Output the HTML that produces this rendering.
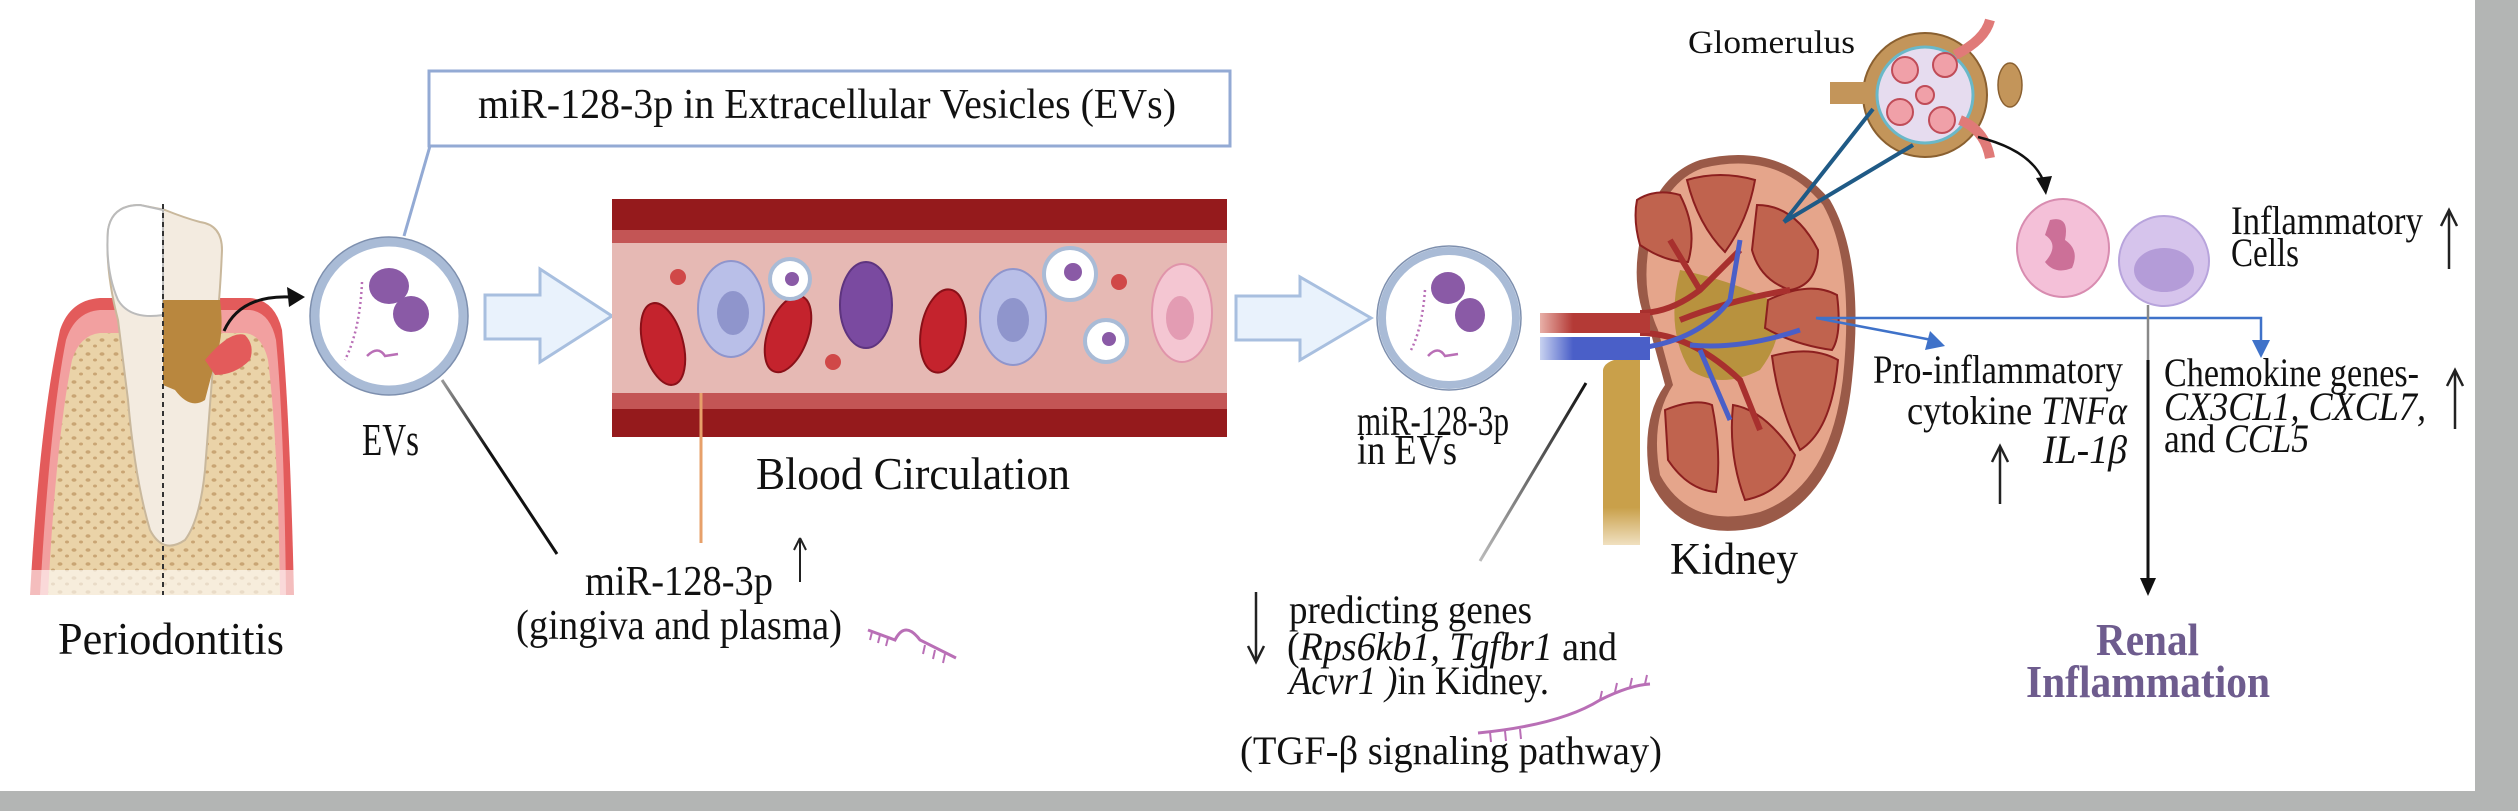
<!DOCTYPE html>
<html><head><meta charset="utf-8"><style>
html,body{margin:0;padding:0;background:#fff;}
svg{display:block;}
text{font-family:"Liberation Serif",serif;fill:#111;}
</style></head><body>
<svg width="2518" height="811" viewBox="0 0 2518 811" xmlns="http://www.w3.org/2000/svg">
<defs>
<linearGradient id="lg1" x1="0" y1="0" x2="1" y2="1"><stop offset="0" stop-color="#999"/><stop offset="0.4" stop-color="#111"/></linearGradient>
<linearGradient id="lg2" x1="1" y1="0" x2="0" y2="1"><stop offset="0" stop-color="#111"/><stop offset="1" stop-color="#bbb"/></linearGradient>
<pattern id="dots" width="14" height="14" patternUnits="userSpaceOnUse"><rect width="14" height="14" fill="#ead3a8"/><ellipse cx="4" cy="4" rx="2.5" ry="1.8" fill="#c9a574"/><ellipse cx="11" cy="10" rx="2" ry="1.5" fill="#c9a574"/></pattern>
<linearGradient id="art" x1="0" x2="1"><stop offset="0" stop-color="#e8b0a8"/><stop offset="0.3" stop-color="#b43a36"/></linearGradient>
<linearGradient id="vein" x1="0" x2="1"><stop offset="0" stop-color="#c8d2f0"/><stop offset="0.3" stop-color="#4a5fc8"/></linearGradient>
<linearGradient id="ur" x1="0" y1="0" x2="0" y2="1"><stop offset="0.8" stop-color="#c9a04a"/><stop offset="1" stop-color="#f0e0c0"/></linearGradient>
</defs>
<rect width="2518" height="811" fill="#fff"/>
<rect x="2475" y="0" width="43" height="811" fill="#b3b5b4"/>
<rect x="0" y="791" width="2518" height="20" fill="#b3b5b4"/>

<!-- title box -->
<rect x="429" y="71" width="801" height="75" fill="#fff" stroke="#93aad4" stroke-width="3"/>
<text x="478" y="118" font-size="42" textLength="698" lengthAdjust="spacingAndGlyphs">miR-128-3p in Extracellular Vesicles (EVs)</text>
<line x1="430" y1="146" x2="404" y2="236" stroke="#93aad4" stroke-width="3"/>

<!-- tooth -->
<path d="M30 595 Q40 420 60 330 Q70 300 100 298 L250 298 Q275 300 282 330 Q290 420 294 595 Z" fill="#e35b5b"/>
<path d="M40 595 Q50 420 66 340 Q75 312 100 310 L250 310 Q270 312 276 340 Q284 420 286 595 Z" fill="#f2a0a0"/>
<path d="M48 595 Q56 440 72 360 Q80 335 100 333 L245 333 Q262 335 268 360 Q278 440 280 595 Z" fill="url(#dots)"/>
<rect x="25" y="570" width="275" height="30" fill="#fff" opacity="0.6"/>
<path d="M108 230 Q112 205 140 205 L165 210 Q185 218 200 222 Q222 225 222 250 Q220 300 215 340 L205 470 Q200 520 185 540 Q163 555 150 530 Q135 480 128 400 L118 320 Q105 270 108 230 Z" fill="#f3ebe0" stroke="#c9b89c" stroke-width="2"/>
<path d="M108 230 Q112 205 140 205 L163 210 L163 315 Q130 320 118 300 Q105 270 108 230 Z" fill="#ffffff" stroke="#bbb" stroke-width="2"/>
<path d="M163 300 L220 300 Q224 330 218 350 L205 400 Q190 410 175 390 L163 385 Z" fill="#b9873e"/>
<path d="M205 360 Q230 330 245 335 Q255 345 250 360 Q235 375 215 375 Z" fill="#e35b5b"/>
<line x1="163" y1="204" x2="163" y2="595" stroke="#333" stroke-width="2" stroke-dasharray="5,4"/>
<path d="M224 331 Q240 295 290 297" fill="none" stroke="#111" stroke-width="3"/>
<path d="M305 297 L287 287 L289 307 Z" fill="#111"/>
<text x="58" y="654" font-size="45" textLength="226" lengthAdjust="spacingAndGlyphs">Periodontitis</text>

<!-- EV circle 1 -->
<circle cx="389" cy="316" r="74" fill="#fff" stroke="#a9bbd6" stroke-width="9"/>
<circle cx="389" cy="316" r="79" fill="none" stroke="#7d8fae" stroke-width="1.5"/>
<path d="M362 282 Q360 330 345 360" fill="none" stroke="#b96fb6" stroke-width="2.5" stroke-dasharray="2,3"/>
<ellipse cx="389" cy="286" rx="20" ry="18" fill="#8a5aa6"/>
<ellipse cx="411" cy="314" rx="18" ry="18" fill="#8a5aa6"/>
<path d="M367 356 Q378 345 385 356 L398 354" fill="none" stroke="#b96fb6" stroke-width="2.5"/>
<text x="362" y="455" font-size="45" textLength="57" lengthAdjust="spacingAndGlyphs">EVs</text>

<path d="M485 295 L540 295 L540 269 L612 316 L540 362 L540 339 L485 339 Z" fill="#e9f2fc" stroke="#a8bfdf" stroke-width="3"/>

<!-- vessel -->
<rect x="612" y="199" width="615" height="238" fill="#951a1c"/>
<rect x="612" y="230" width="615" height="13" fill="#c35555"/>
<rect x="612" y="243" width="615" height="150" fill="#e6b9b4"/>
<rect x="612" y="393" width="615" height="16" fill="#c35555"/>
<ellipse cx="663" cy="344" rx="20" ry="42" transform="rotate(-15 663 344)" fill="#c4232d" stroke="#8a1018" stroke-width="2"/>
<ellipse cx="731" cy="309" rx="33" ry="48" fill="#b9bfe8" stroke="#8f95cc" stroke-width="2"/>
<ellipse cx="733" cy="313" rx="16" ry="22" fill="#8f95cc"/>
<ellipse cx="788" cy="334" rx="20" ry="40" transform="rotate(20 788 334)" fill="#c4232d" stroke="#8a1018" stroke-width="2"/>
<circle cx="790" cy="279" r="20" fill="#fff" stroke="#a9bbd6" stroke-width="4"/>
<circle cx="792" cy="279" r="7" fill="#8a5aa6"/>
<ellipse cx="866" cy="305" rx="26" ry="43" fill="#7a4aa0" stroke="#5e347f" stroke-width="2"/>
<ellipse cx="943" cy="331" rx="22" ry="42" transform="rotate(10 943 331)" fill="#c4232d" stroke="#8a1018" stroke-width="2"/>
<ellipse cx="1013" cy="317" rx="33" ry="48" fill="#b9bfe8" stroke="#8f95cc" stroke-width="2"/>
<ellipse cx="1013" cy="320" rx="16" ry="22" fill="#8f95cc"/>
<circle cx="1070" cy="274" r="26" fill="#fff" stroke="#a9bbd6" stroke-width="4"/>
<circle cx="1073" cy="272" r="9" fill="#8a5aa6"/>
<circle cx="1106" cy="341" r="21" fill="#fff" stroke="#a9bbd6" stroke-width="4"/>
<circle cx="1109" cy="339" r="7" fill="#8a5aa6"/>
<ellipse cx="1182" cy="313" rx="30" ry="49" fill="#f4c6d2" stroke="#e094aa" stroke-width="2"/>
<ellipse cx="1180" cy="318" rx="14" ry="22" fill="#e39cb3"/>
<circle cx="678" cy="277" r="8" fill="#d04848"/>
<circle cx="833" cy="362" r="8" fill="#d04848"/>
<circle cx="1119" cy="282" r="8" fill="#d04848"/>
<text x="756" y="489" font-size="45" textLength="314" lengthAdjust="spacingAndGlyphs">Blood Circulation</text>
<line x1="701" y1="393" x2="701" y2="543" stroke="#e7a06a" stroke-width="3"/>
<line x1="442" y1="380" x2="557" y2="554" stroke="url(#lg1)" stroke-width="3"/>
<text x="585" y="595" font-size="42" textLength="188" lengthAdjust="spacingAndGlyphs">miR-128-3p</text>
<line x1="800" y1="582" x2="800" y2="540" stroke="#222" stroke-width="2"/>
<path d="M800 538 L794 550 M800 538 L806 550" stroke="#222" stroke-width="2" fill="none"/>
<text x="516" y="639" font-size="42" textLength="326" lengthAdjust="spacingAndGlyphs">(gingiva and plasma)</text>
<path d="M868 630 L895 640 Q905 620 920 640 L956 658" fill="none" stroke="#b96fb6" stroke-width="3"/>
<path d="M872 632 l-2 8 M880 635 l-2 8 M888 638 l-2 8 M925 645 l-2 9 M935 650 l-2 9 M945 654 l-2 9" stroke="#b96fb6" stroke-width="2"/>

<path d="M1236 296 L1300 296 L1300 277 L1371 318 L1300 360 L1300 340 L1236 340 Z" fill="#e9f2fc" stroke="#a8bfdf" stroke-width="3"/>

<!-- EV circle 2 -->
<circle cx="1449" cy="318" r="67" fill="#fff" stroke="#a9bbd6" stroke-width="8"/>
<circle cx="1449" cy="318" r="72" fill="none" stroke="#7d8fae" stroke-width="1.5"/>
<path d="M1425 290 Q1422 330 1410 352" fill="none" stroke="#b96fb6" stroke-width="2.5" stroke-dasharray="2,3"/>
<ellipse cx="1448" cy="288" rx="17" ry="16" fill="#8a5aa6"/>
<ellipse cx="1470" cy="315" rx="15" ry="17" fill="#8a5aa6"/>
<path d="M1428 356 Q1438 345 1445 356 L1458 354" fill="none" stroke="#b96fb6" stroke-width="2.5"/>
<text x="1357" y="435" font-size="42" textLength="152" lengthAdjust="spacingAndGlyphs">miR-128-3p</text>
<text x="1357" y="464" font-size="42" textLength="100" lengthAdjust="spacingAndGlyphs">in EVs</text>
<line x1="1586" y1="383" x2="1480" y2="561" stroke="url(#lg2)" stroke-width="3"/>

<!-- kidney -->
<path d="M1603 370 Q1605 357 1640 357 L1640 545 L1603 545 Z" fill="url(#ur)"/>
<path d="M1700 160 Q1780 140 1830 200 Q1865 260 1852 380 Q1840 500 1760 527 Q1680 545 1650 480 Q1640 420 1665 385 L1650 330 Q1630 290 1640 240 Q1655 175 1700 160 Z" fill="#9a5a48"/>
<path d="M1703 168 Q1778 150 1823 205 Q1855 262 1843 378 Q1830 488 1760 512 Q1690 530 1660 475 Q1650 420 1673 385 L1658 330 Q1640 290 1650 240 Q1663 182 1703 168 Z" fill="#e5a58b"/>
<path d="M1680 270 Q1730 280 1770 300 Q1790 330 1760 370 Q1720 390 1690 370 Q1665 330 1680 270 Z" fill="#b8923e"/>
<g fill="#c0634e" stroke="#8c1f1f" stroke-width="2">
<path d="M1637 200 Q1655 188 1680 195 Q1698 230 1688 262 Q1665 262 1640 245 Q1633 220 1637 200 Z"/>
<path d="M1687 180 Q1720 170 1755 180 Q1748 220 1725 252 Q1698 225 1687 180 Z"/>
<path d="M1757 205 Q1795 205 1818 250 Q1818 285 1790 290 Q1760 280 1752 250 Z"/>
<path d="M1768 300 Q1810 280 1837 295 Q1842 335 1832 350 Q1795 345 1765 328 Z"/>
<path d="M1772 356 Q1812 345 1838 360 Q1832 430 1800 450 Q1778 405 1772 356 Z"/>
<path d="M1665 410 Q1695 398 1712 405 Q1722 455 1716 492 Q1688 490 1668 460 Z"/>
<path d="M1733 405 Q1765 410 1795 455 Q1785 492 1745 500 Q1728 455 1733 405 Z"/>
</g>
<path d="M1640 313 Q1670 313 1700 290 L1740 250 M1640 333 Q1690 333 1740 380 L1760 430 M1680 320 Q1730 300 1790 290 M1700 290 L1670 240" fill="none" stroke="#a8302e" stroke-width="6"/>
<rect x="1540" y="313" width="110" height="20" fill="url(#art)"/>
<path d="M1640 348 Q1700 340 1730 300 L1740 240 M1690 345 Q1740 350 1800 330 M1700 350 L1730 420" fill="none" stroke="#4a5fc8" stroke-width="5"/>
<rect x="1540" y="337" width="110" height="23" fill="url(#vein)"/>
<text x="1670" y="574" font-size="45" textLength="128" lengthAdjust="spacingAndGlyphs">Kidney</text>

<!-- glomerulus -->
<circle cx="1925" cy="95" r="62" fill="#c3955a" stroke="#8a6030" stroke-width="2"/>
<circle cx="1925" cy="95" r="48" fill="#e6dcef" stroke="#6ab8c8" stroke-width="3"/>
<g fill="#f0a0a8" stroke="#c04c58" stroke-width="2">
<circle cx="1905" cy="70" r="13"/><circle cx="1945" cy="65" r="12"/><circle cx="1900" cy="112" r="13"/><circle cx="1942" cy="120" r="13"/><circle cx="1925" cy="95" r="9"/>
</g>
<path d="M1955 55 Q1985 40 1990 20 M1960 120 Q1985 130 1990 158" fill="none" stroke="#e07a78" stroke-width="10"/>
<rect x="1830" y="82" width="40" height="22" fill="#c3955a"/>
<ellipse cx="2010" cy="85" rx="12" ry="22" fill="#c3955a" stroke="#8a6030" stroke-width="1.5"/>
<text x="1688" y="53" font-size="33" textLength="167" lengthAdjust="spacingAndGlyphs">Glomerulus</text>
<path d="M1784 222 L1873 109 M1784 222 L1913 145" stroke="#1f5a86" stroke-width="4" fill="none"/>
<path d="M1978 137 Q2030 150 2043 180" fill="none" stroke="#111" stroke-width="2.5"/>
<path d="M2046 195 L2036 178 L2052 176 Z" fill="#111"/>

<!-- inflammatory cells -->
<ellipse cx="2063" cy="248" rx="46" ry="49" fill="#f4c0d8" stroke="#d88cb0" stroke-width="2"/>
<path d="M2050 220 Q2070 215 2065 240 Q2080 250 2072 268 Q2055 275 2045 262 Q2060 245 2045 235 Z" fill="#cc7098"/>
<ellipse cx="2164" cy="261" rx="45" ry="45" fill="#d6c4ec" stroke="#b8a4dc" stroke-width="2"/>
<ellipse cx="2164" cy="270" rx="30" ry="22" fill="#b49cd8"/>
<text x="2231" y="234" font-size="40" textLength="192" lengthAdjust="spacingAndGlyphs">Inflammatory</text>
<text x="2231" y="266" font-size="40" textLength="68" lengthAdjust="spacingAndGlyphs">Cells</text>
<line x1="2449" y1="269" x2="2449" y2="212" stroke="#222" stroke-width="2.5"/>
<path d="M2441 226 L2449 210 L2457 226" stroke="#222" stroke-width="2.5" fill="none"/>

<path d="M1816 318 L2261 318 L2261 345" fill="none" stroke="#3f72c9" stroke-width="2.5"/>
<path d="M2252 340 L2270 340 L2261 358 Z" fill="#3f72c9"/>
<line x1="1816" y1="318" x2="1932" y2="340" stroke="#3f72c9" stroke-width="2.5"/>
<path d="M1945 346 L1925 350 L1930 331 Z" fill="#3f72c9"/>
<line x1="2148" y1="305" x2="2148" y2="360" stroke="#888" stroke-width="2.5"/>
<line x1="2148" y1="360" x2="2148" y2="580" stroke="#111" stroke-width="3"/>
<path d="M2140 578 L2156 578 L2148 596 Z" fill="#111"/>

<text x="1873" y="383" font-size="40" textLength="250" lengthAdjust="spacingAndGlyphs">Pro-inflammatory</text>
<text x="1907" y="424" font-size="40" textLength="220" lengthAdjust="spacingAndGlyphs">cytokine <tspan font-style="italic">TNFα</tspan></text>
<text x="2043" y="463" font-size="40" font-style="italic" textLength="84" lengthAdjust="spacingAndGlyphs">IL-1β</text>
<line x1="2000" y1="504" x2="2000" y2="448" stroke="#222" stroke-width="2.5"/>
<path d="M1992 462 L2000 446 L2008 462" stroke="#222" stroke-width="2.5" fill="none"/>

<text x="2164" y="386" font-size="40" textLength="255" lengthAdjust="spacingAndGlyphs">Chemokine genes-</text>
<text x="2164" y="420" font-size="40" font-style="italic" textLength="262" lengthAdjust="spacingAndGlyphs">CX3CL1,  CXCL7,</text>
<text x="2164" y="452" font-size="40" textLength="145" lengthAdjust="spacingAndGlyphs">and <tspan font-style="italic">CCL5</tspan></text>
<line x1="2455" y1="429" x2="2455" y2="372" stroke="#222" stroke-width="2.5"/>
<path d="M2447 386 L2455 370 L2463 386" stroke="#222" stroke-width="2.5" fill="none"/>

<text x="2096" y="655" font-size="46" font-weight="bold" textLength="103" lengthAdjust="spacingAndGlyphs" style="fill:#6e5c8e">Renal</text>
<text x="2026" y="697" font-size="46" font-weight="bold" textLength="244" lengthAdjust="spacingAndGlyphs" style="fill:#6e5c8e">Inflammation</text>

<line x1="1256" y1="592" x2="1256" y2="660" stroke="#222" stroke-width="2.5"/>
<path d="M1248 646 L1256 662 L1264 646" stroke="#222" stroke-width="2.5" fill="none"/>
<text x="1289" y="623" font-size="40" textLength="243" lengthAdjust="spacingAndGlyphs">predicting genes</text>
<text x="1287" y="660" font-size="40" textLength="330" lengthAdjust="spacingAndGlyphs">(<tspan font-style="italic">Rps6kb1, Tgfbr1</tspan> and</text>
<text x="1289" y="694" font-size="40" textLength="260" lengthAdjust="spacingAndGlyphs"><tspan font-style="italic">Acvr1 )</tspan>in Kidney.</text>
<path d="M1478 733 Q1560 725 1600 700 Q1630 685 1650 684" fill="none" stroke="#b96fb6" stroke-width="3"/>
<path d="M1490 732 l1 10 M1505 731 l1 10 M1520 729 l1 10 M1600 700 l2 -9 M1615 692 l2 -9 M1630 687 l2 -9 M1645 684 l2 -9" stroke="#b96fb6" stroke-width="2"/>
<text x="1240" y="764" font-size="40" textLength="422" lengthAdjust="spacingAndGlyphs">(TGF-β signaling pathway)</text>
</svg>
</body></html>
